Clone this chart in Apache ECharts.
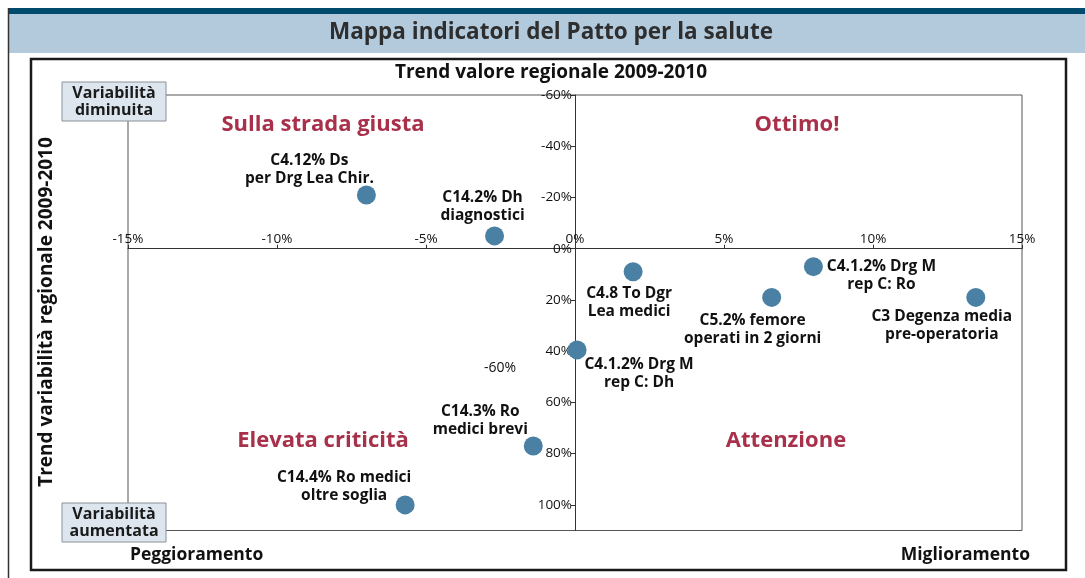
<!DOCTYPE html>
<html>
<head>
<meta charset="utf-8">
<script src="https://cdn.jsdelivr.net/npm/echarts@6/dist/echarts.min.js"></script>
<style>
html,body{margin:0;padding:0;background:#fff;}
#chart{width:1085px;height:578px;}
</style>
</head>
<body>
<div id="chart"></div>
<script>
// ---- Data ----
const indicatorNames = [
  "C4.12% Ds\nper Drg Lea Chir.",
  "C14.2% Dh\ndiagnostici",
  "C4.8 To Dgr\nLea medici",
  "C4.1.2% Drg M\nrep C: Ro",
  "C5.2% femore\noperati in 2 giorni",
  "C3 Degenza media\npre-operatoria",
  "C4.1.2% Drg M\nrep C: Dh",
  "C14.3% Ro\nmedici brevi",
  "C14.4% Ro medici\noltre soglia"
];
const trendValore = [-7.0, -2.7, 1.95, 8.0, 6.6, 13.45, 0.07, -1.4, -5.7];
const trendVariabilita = [-21, -5, 9, 7, 19, 19, 39.5, 77, 100];
const xTicks = { min: -15, max: 15, step: 5 };
const yTicks = { min: -60, max: 110, step: 20 };
// label placement (offset of label block from its point), layout only
const labelOffsets = [[-57,-25],[-12,-29],[-4,31],[68,9],[-19,32],[-34,28],[62,24],[-53,-25],[-61,-18]];

const FONT = '"Open Sans", Lato, sans-serif';
const RED = '#a8304a';
const GRID = {left:128, right:63, top:95, bottom:47.5};

const chart = echarts.init(document.getElementById('chart'), null, {renderer:'canvas'});

const points = indicatorNames.map((n,i)=>({
  value:[trendValore[i], trendVariabilita[i]],
  name:n,
  label:{offset: labelOffsets[i]}
}));

function qText(x,y,text){
  return {type:'text', x:x, y:y, z:50, style:{text:text, font:'bold 22px '+FONT, fill:RED, textAlign:'center', textVerticalAlign:'middle'}};
}
function box(y,text){
  return {type:'group', z:100, children:[
    {type:'rect', shape:{x:62,y:y,width:104,height:39}, style:{fill:'#dde6ee', stroke:'#8a9099', lineWidth:1}, z:100},
    {type:'text', x:114, y:y+19.5, z:101, style:{text:text, font:'bold 16px '+FONT, fill:'#1a1a1a', textAlign:'center', textVerticalAlign:'middle', lineHeight:17}}
  ]};
}

const option = {
  animation:false,
  backgroundColor:'#fff',
  grid:Object.assign({show:true, borderColor:'#555', borderWidth:1, backgroundColor:'transparent'}, GRID),
  xAxis:{
    type:'value', min:xTicks.min, max:xTicks.max, interval:xTicks.step, position:'bottom', offset:0,
    axisLine:{onZero:false, lineStyle:{color:'#333', width:1}},
    axisTick:{inside:true, length:4, lineStyle:{color:'#333'}},
    axisLabel:{inside:true, margin:3, hideOverlap:false, formatter:v=>v+'%', color:'#111', fontSize:13.5, fontFamily:FONT},
    splitLine:{show:false}
  },
  yAxis:{
    type:'value', inverse:true, min:yTicks.min, max:yTicks.max, interval:yTicks.step, position:'left', offset:0,
    axisLine:{onZero:false, lineStyle:{color:'#333', width:1}},
    axisTick:{length:4, lineStyle:{color:'#333'}},
    axisLabel:{margin:3, hideOverlap:false, showMinLabel:true, showMaxLabel:false, formatter:v=> (v>100? '' : v+'%'), color:'#111', fontSize:13.5, fontFamily:FONT},
    splitLine:{show:false}
  },
  series:[{
    type:'scatter',
    symbolSize:19,
    itemStyle:{color:'#4a80a3', opacity:1},
    data:points,
    label:{show:true, position:'inside', formatter:p=>p.name, color:'#111', fontSize:15.5, fontWeight:'bold', fontFamily:FONT, lineHeight:18, align:'center', verticalAlign:'middle'},
    z:10
  }],
  graphic:[
    {type:'rect', shape:{x:8,y:8,width:1077,height:6}, style:{fill:'#004a6e'}},
    {type:'rect', shape:{x:8,y:14,width:1077,height:39}, style:{fill:'#b3cadd'}},
    {type:'line', shape:{x1:8.5,y1:8,x2:8.5,y2:578}, style:{stroke:'#333', lineWidth:1.5}},
    {type:'text', x:551, y:33, style:{text:'Mappa indicatori del Patto per la salute', font:'bold 22.5px '+FONT, fill:'#2e2e2e', textAlign:'center', textVerticalAlign:'middle'}},
    {type:'rect', shape:{x:31,y:59,width:1035,height:511}, style:{fill:'none', stroke:'#1a1a1a', lineWidth:2.5}},
    {type:'text', x:551, y:73, style:{text:'Trend valore regionale 2009-2010', font:'bold 19px '+FONT, fill:'#111', textAlign:'center', textVerticalAlign:'middle'}},
    {type:'text', x:47, y:312, rotation:Math.PI/2, style:{text:'Trend variabilità regionale 2009-2010', font:'bold 19px '+FONT, fill:'#111', textAlign:'center', textVerticalAlign:'middle'}},
    {type:'text', x:130, y:555, style:{text:'Peggioramento', font:'bold 17.5px '+FONT, fill:'#111', textAlign:'left', textVerticalAlign:'middle'}},
    {type:'text', x:1030, y:555, style:{text:'Miglioramento', font:'bold 17.5px '+FONT, fill:'#111', textAlign:'right', textVerticalAlign:'middle'}},
    qText(323,125,'Sulla strada giusta'),
    qText(797,125,'Ottimo!'),
    qText(323,441,'Elevata criticità'),
    qText(786,441,'Attenzione'),
    {type:'text', x:500, y:368, style:{text:'-60%', font:'14px '+FONT, fill:'#111', textAlign:'center', textVerticalAlign:'middle'}},
    box(82,'Variabilità\ndiminuita'),
    box(503,'Variabilità\naumentata')
  ]
};
chart.setOption(option);

// Move both axes to cross at the origin, using the library's own scales
const origin = chart.convertToPixel({gridIndex:0}, [0,0]);
const H = 578;
chart.setOption({
  xAxis:{offset: origin[1] - (H - GRID.bottom)},
  yAxis:{offset: GRID.left - origin[0]}
});
</script>
</body>
</html>
